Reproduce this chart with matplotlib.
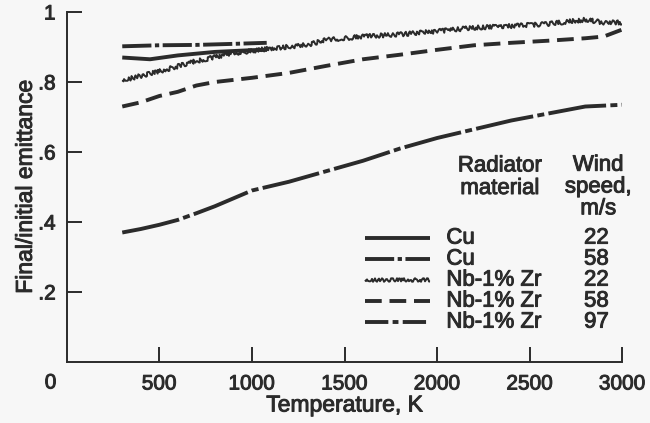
import matplotlib.pyplot as plt
import matplotlib.patheffects as pe
from matplotlib.lines import Line2D

# temperature (K) and final/initial emittance
t_cu22 = [300, 450, 600, 800, 1000, 1080]
e_cu22 = [0.870, 0.865, 0.876, 0.886, 0.891, 0.892]

t_cu58 = [300, 500, 700, 900, 1080]
e_cu58 = [0.902, 0.905, 0.906, 0.909, 0.912]

t_nb22 = [300, 500, 700, 900, 1100, 1300, 1400, 1600, 1800, 2000, 2200, 2400, 2600, 2800, 2900, 3000]
e_nb22 = [0.805, 0.830, 0.860, 0.882, 0.896, 0.906, 0.920, 0.930, 0.936, 0.945, 0.955, 0.960, 0.966, 0.978, 0.970, 0.970]

t_nb58 = [300, 400, 500, 600, 700, 800, 1000, 1200, 1400, 1600, 1800, 2000, 2200, 2400, 2600, 2800, 2900, 3000]
e_nb58 = [0.730, 0.742, 0.760, 0.772, 0.790, 0.800, 0.812, 0.826, 0.846, 0.865, 0.878, 0.892, 0.905, 0.912, 0.918, 0.925, 0.930, 0.950]

t_nb97 = [300, 400, 500, 600, 700, 800, 1000, 1200, 1400, 1600, 1800, 2000, 2200, 2400, 2600, 2800, 3000]
e_nb97 = [0.370, 0.380, 0.392, 0.406, 0.425, 0.445, 0.490, 0.515, 0.545, 0.575, 0.610, 0.640, 0.665, 0.690, 0.710, 0.730, 0.735]

materials = ["Cu", "Cu", "Nb-1% Zr", "Nb-1% Zr", "Nb-1% Zr"]
speeds = ["22", "58", "22", "58", "97"]

ink = "#2b2b2b"
bg = "#f7f7f7"
lw = 2.8
fs_tick = 15
fs_lab = 16.5
fs_leg = 16

plt.rcParams['font.family'] = ['Liberation Sans', 'DejaVu Sans']
heavy = [pe.withStroke(linewidth=0.7, foreground=ink)]

fig = plt.figure(figsize=(6.5, 4.23), dpi=100, facecolor=bg)
ax = fig.add_axes([0.1026, 0.1442, 0.8548, 0.8274], facecolor=bg)

# plot styles (dash patterns in units of line width)
styles = [
    dict(ls='-'),
    dict(ls=(0, (7.5, 0.9, 1.1, 0.9))),
    dict(ls='-'),
    dict(ls=(0, (4.3, 2.0))),
    dict(ls=(0, (15, 1.1, 1.8, 1.1))),
]
series = [(t_cu22, e_cu22), (t_cu58, e_cu58), (t_nb22, e_nb22),
          (t_nb58, e_nb58), (t_nb97, e_nb97)]

for i, (t, e) in enumerate(series):
    w = 1.4 if i == 2 else lw
    ln, = ax.plot(t, e, color=ink, lw=w, solid_capstyle='butt',
                  dash_capstyle='butt', **styles[i])
    if i == 2:
        ln.set_sketch_params(scale=2.2, length=3.0, randomness=0.3)

ax.set_xlim(0, 3000)
ax.set_ylim(0, 1)
ax.spines['top'].set_visible(False)
ax.spines['right'].set_visible(False)
for s in ['left', 'bottom']:
    ax.spines[s].set_linewidth(1.4)
    ax.spines[s].set_color(ink)

ax.set_xticks([500, 1000, 1500, 2000, 2500, 3000])
ax.set_xticklabels(['500', '1000', '1500', '2000', '2500', '3000'])
ax.set_yticks([0.2, 0.4, 0.6, 0.8, 1.0])
ax.set_yticklabels(['.2', '.4', '.6', '.8', '1'])
ax.tick_params(direction='in', length=11, width=1.4, color=ink,
               labelsize=fs_tick, labelcolor=ink)
ax.tick_params(axis='x', pad=9)
ax.tick_params(axis='y', pad=8)
for lab in ax.get_xticklabels() + ax.get_yticklabels():
    lab.set_path_effects(heavy)

# shared origin label
ax.text(-55, -0.06, '0', fontsize=fs_tick, color=ink, ha='right', va='center',
        clip_on=False, path_effects=heavy)

ax.set_xlabel('Temperature, K', fontsize=fs_lab, color=ink, labelpad=0,
              path_effects=heavy)
ax.set_ylabel('Final/initial emittance', fontsize=fs_lab, color=ink,
              labelpad=1, path_effects=heavy)

# hand-made legend table
ax.text(2340, 0.528, 'Radiator\nmaterial', fontsize=fs_leg, color=ink,
        ha='center', va='center', linespacing=1.1, path_effects=heavy)
ax.text(2870, 0.50, 'Wind\nspeed,\nm/s', fontsize=fs_leg, color=ink,
        ha='center', va='center', linespacing=1.05, path_effects=heavy)

row_y = [0.354, 0.294, 0.234, 0.174, 0.114]
leg_styles = [
    dict(ls='-', lw=lw),
    dict(ls=(0, (7.5, 0.9, 1.1, 0.9)), lw=lw),
    dict(ls='-', lw=1.4),
    dict(ls=(0, (4.3, 2.0)), lw=lw),
    dict(ls=(0, (6.0, 1.1, 1.5, 1.1)), lw=lw),
]
for i, y in enumerate(row_y):
    h = Line2D([1610, 1960], [y, y], color=ink, solid_capstyle='butt',
               dash_capstyle='butt', **leg_styles[i])
    if i == 2:
        h.set_sketch_params(scale=1.8, length=3.0, randomness=0.3)
    ax.add_line(h)
    ax.text(2050, y, materials[i], fontsize=fs_leg, color=ink, ha='left',
            va='center', path_effects=heavy)
    ax.text(2860, y, speeds[i], fontsize=fs_leg, color=ink, ha='center',
            va='center', path_effects=heavy)

fig.savefig('out.png', dpi=100, facecolor=bg)
